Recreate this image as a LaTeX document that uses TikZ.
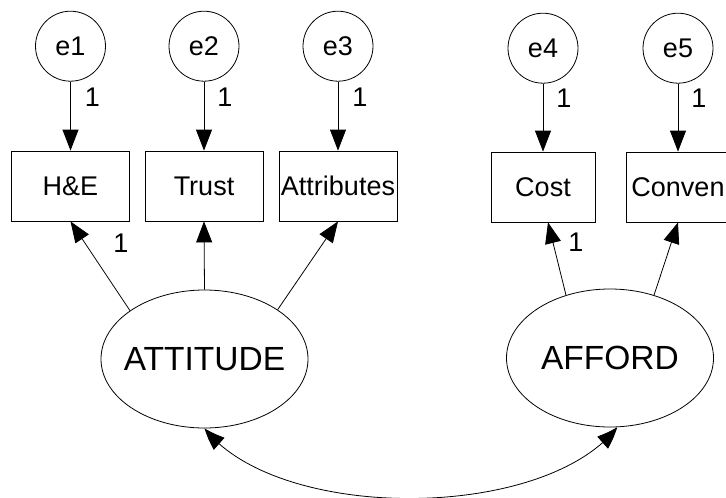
\documentclass[tikz,border=0pt]{standalone}
\usepackage{fontspec}
\setmainfont{Liberation Sans}
\usepackage{tikz}
\usetikzlibrary{shapes,arrows,positioning,calc,arrows.meta,bending,shapes.geometric}
\tikzset{%
  errorNode/.style={%
    circle,
    draw=black,
    line width=0.8pt,
    minimum size=70pt,
    inner sep=0pt,
    font=\fontsize{27pt}{30pt}\selectfont
  },
  obsBox/.style={%
    rectangle,
    draw=black,
    line width=0.8pt,
    minimum width=118pt,
    minimum height=70pt,
    inner sep=0pt,
    font=\fontsize{27pt}{30pt}\selectfont
  },
  latentNode/.style={%
    ellipse,
    draw=black,
    line width=0.8pt,
    minimum width=207pt,
    minimum height=138pt,
    inner sep=0pt
  },
  latentText/.style={%
    inner sep=0pt,
    font=\fontsize{33.5pt}{36pt}\selectfont
  },
  pathArrow/.style={%
    -{Triangle[length=21pt,width=16pt]},
    line width=0.8pt,
    color=black
  },
  covArrow/.style={%
    {Triangle[length=21pt,width=16pt,bend]}-{Triangle[length=21pt,width=16pt,bend]},
    line width=0.8pt,
    color=black
  },
  weightLabel/.style={%
    inner sep=0pt,
    font=\fontsize{27pt}{30pt}\selectfont
  }
}

\begin{document}
\begin{tikzpicture}[x=1pt,y=1pt]
            \path[use as bounding box, clip] (0,0) rectangle (726,-498);

            \node[obsBox] (he) at (70.5,-186) {H\&E};
            \node[obsBox] (trust) at (204,-186) {Trust};
            \node[obsBox] (attr) at (338,-186) {Attributes};
            \node[obsBox, minimum width=104pt] (cost) at (543,-187) {Cost};
            \node[obsBox, minimum width=104pt] (conv) at (678,-187) {Conven};

            \node[errorNode, above=69pt of he] (e1) {e1};
            \node[errorNode, above=69pt of trust] (e2) {e2};
            \node[errorNode, above=69pt of attr] (e3) {e3};
            \node[errorNode, above=68pt of cost] (e4) {e4};
            \node[errorNode, above=68pt of conv] (e5) {e5};

            \node[latentNode, label={[latentText]center:ATTITUDE}] (att) at (204.5,-359) {};
            \node[latentNode, label={[latentText]center:AFFORD}] (aff) at (610,-358) {};

            \draw[pathArrow] (e1) -- node[weightLabel, pos=0.22, xshift=22pt]{1} (he);
            \draw[pathArrow] (e2) -- node[weightLabel, pos=0.22, xshift=21pt]{1} (trust);
            \draw[pathArrow] (e3) -- node[weightLabel, pos=0.22, xshift=22pt]{1} (attr);
            \draw[pathArrow] (e4) -- node[weightLabel, pos=0.22, xshift=21pt]{1} (cost);
            \draw[pathArrow] (e5) -- node[weightLabel, pos=0.22, xshift=21pt]{1} (conv);

            \draw[pathArrow] (att.147) -- node[weightLabel, pos=0.76, xshift=36pt]{1} (he.south);
            \draw[pathArrow] (att.north) -- (trust.south);
            \draw[pathArrow] (att.34) -- (attr.south);
            \draw[pathArrow] (aff.125) -- node[weightLabel, pos=0.73, xshift=23pt]{1} ([xshift=5pt]cost.south);
            \draw[pathArrow] (aff.55) -- (conv.south);

            \draw[covArrow] (att.south) to[out=-52, in=-128, looseness=0.74] (aff.-84);
        \end{tikzpicture}
\end{document}
